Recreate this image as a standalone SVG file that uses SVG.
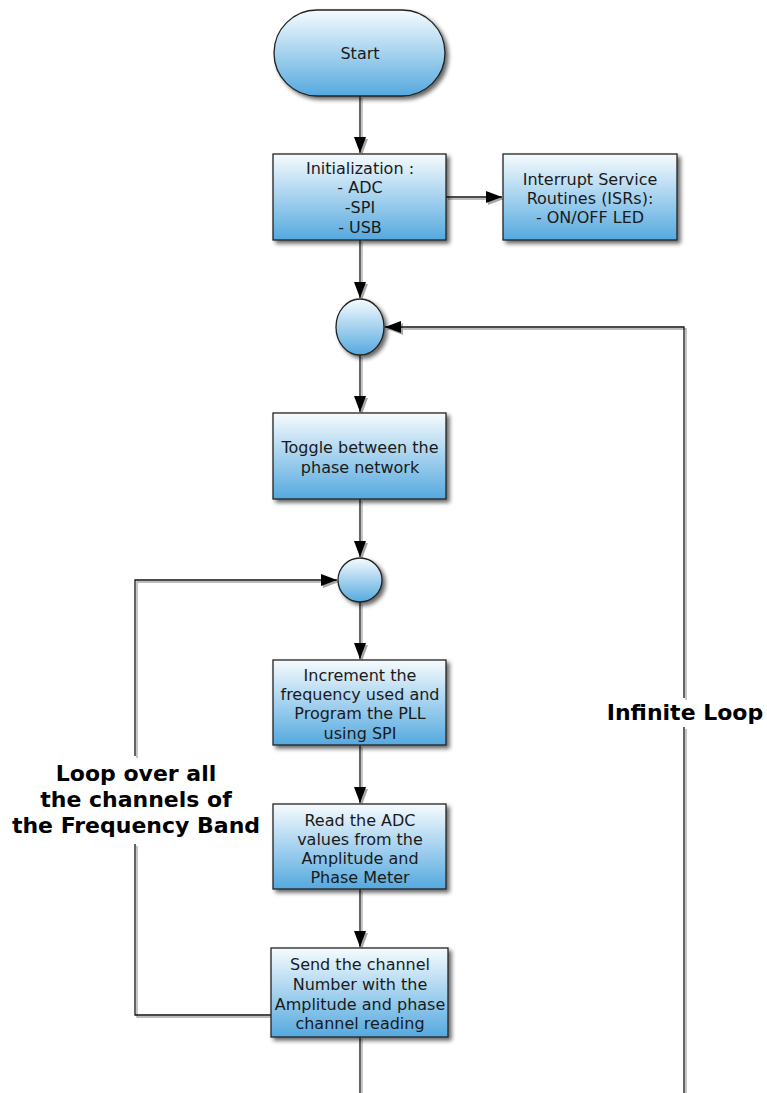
<svg xmlns="http://www.w3.org/2000/svg" width="767" height="1093" viewBox="0 0 767 1093">
<style>
.node{fill:url(#g);stroke:#222;stroke-width:1.3;filter:url(#sh)}
.t{font-family:"DejaVu Sans",Verdana,sans-serif;font-size:16px;fill:#1a1a1a;text-anchor:middle}
.lbl{font-family:"DejaVu Sans",Verdana,sans-serif;font-size:22px;font-weight:bold;fill:#000;text-anchor:middle}
.c{fill:none;stroke:#111;stroke-width:1.3;filter:url(#lsh)}
</style>
<defs>
<linearGradient id="g" x1="0" y1="0" x2="0" y2="1">
<stop offset="0" stop-color="#f6fbfe"/>
<stop offset="1" stop-color="#55a9df"/>
</linearGradient>
<filter id="sh" x="-20%" y="-20%" width="150%" height="150%">
<feGaussianBlur in="SourceAlpha" stdDeviation="2"/>
<feOffset dx="3" dy="3" result="b"/>
<feComponentTransfer><feFuncA type="linear" slope="0.6"/></feComponentTransfer>
<feMerge><feMergeNode/><feMergeNode in="SourceGraphic"/></feMerge>
</filter>
<filter id="lsh" filterUnits="userSpaceOnUse" x="0" y="0" width="767" height="1093">
<feOffset in="SourceAlpha" dx="1.5" dy="1.5"/>
<feGaussianBlur stdDeviation="0.6"/>
<feComponentTransfer><feFuncA type="linear" slope="0.35"/></feComponentTransfer>
<feMerge><feMergeNode/><feMergeNode in="SourceGraphic"/></feMerge>
</filter>
<marker id="ah" markerWidth="16" markerHeight="12" refX="16" refY="6" orient="auto" markerUnits="userSpaceOnUse">
<path d="M0,0 L16,6 L0,12 Z" fill="#000"/>
</marker>
</defs>

<g id="connectors">
<path class="c" d="M360,96 V153" marker-end="url(#ah)"/>
<path class="c" d="M446,197 H502" marker-end="url(#ah)"/>
<path class="c" d="M360,240 V298" marker-end="url(#ah)"/>
<path class="c" d="M360,355 V412" marker-end="url(#ah)"/>
<path class="c" d="M360,499 V557" marker-end="url(#ah)"/>
<path class="c" d="M360,602 V659" marker-end="url(#ah)"/>
<path class="c" d="M360,745 V803" marker-end="url(#ah)"/>
<path class="c" d="M360,889 V947" marker-end="url(#ah)"/>
<path class="c" d="M360,1037 V1093"/>
<path class="c" d="M684,1093 V727"/>
<path class="c" d="M684,698 V327 H385" marker-end="url(#ah)"/>
<path class="c" d="M271,1015 H135 V844"/>
<path class="c" d="M135,756 V580 H337" marker-end="url(#ah)"/>
</g>

<g id="start">
<rect class="node" x="274" y="10" width="171" height="86" rx="43" ry="43"/>
<text class="t" x="360" y="59">Start</text>
</g>
<g id="init">
<rect class="node" x="273" y="154" width="173" height="86"/>
<text class="t" x="360" y="174">Initialization :</text>
<text class="t" x="360" y="193">- ADC</text>
<text class="t" x="360" y="213">-SPI</text>
<text class="t" x="360" y="233">- USB</text>
</g>
<g id="isr">
<rect class="node" x="503" y="154" width="174" height="86"/>
<text class="t" x="590" y="185">Interrupt Service</text>
<text class="t" x="590" y="204">Routines (ISRs):</text>
<text class="t" x="590" y="223">- ON/OFF LED</text>
</g>
<g id="junction1">
<ellipse class="node" cx="360" cy="327" rx="24" ry="28"/>
</g>
<g id="toggle">
<rect class="node" x="273" y="413" width="173" height="86"/>
<text class="t" x="360" y="453">Toggle between the</text>
<text class="t" x="360" y="473">phase network</text>
</g>
<g id="junction2">
<circle class="node" cx="360" cy="580" r="22"/>
</g>
<g id="increment">
<rect class="node" x="273" y="660" width="173" height="85"/>
<text class="t" x="360" y="681">Increment the</text>
<text class="t" x="360" y="700">frequency used and</text>
<text class="t" x="360" y="719">Program the PLL</text>
<text class="t" x="360" y="739">using SPI</text>
</g>
<g id="read">
<rect class="node" x="273" y="804" width="173" height="85"/>
<text class="t" x="360" y="826">Read the ADC</text>
<text class="t" x="360" y="845">values from the</text>
<text class="t" x="360" y="864">Amplitude and</text>
<text class="t" x="360" y="883">Phase Meter</text>
</g>
<g id="send">
<rect class="node" x="271" y="948" width="177" height="89"/>
<text class="t" x="360" y="970">Send the channel</text>
<text class="t" x="360" y="990">Number with the</text>
<text class="t" x="360" y="1010">Amplitude and phase</text>
<text class="t" x="360" y="1029">channel reading</text>
</g>
<g id="labels">
<text class="lbl" x="136" y="781">Loop over all</text>
<text class="lbl" x="136" y="807">the channels of</text>
<text class="lbl" x="136" y="833">the Frequency Band</text>
<text class="lbl" x="685" y="720">Infinite Loop</text>
</g>
</svg>
